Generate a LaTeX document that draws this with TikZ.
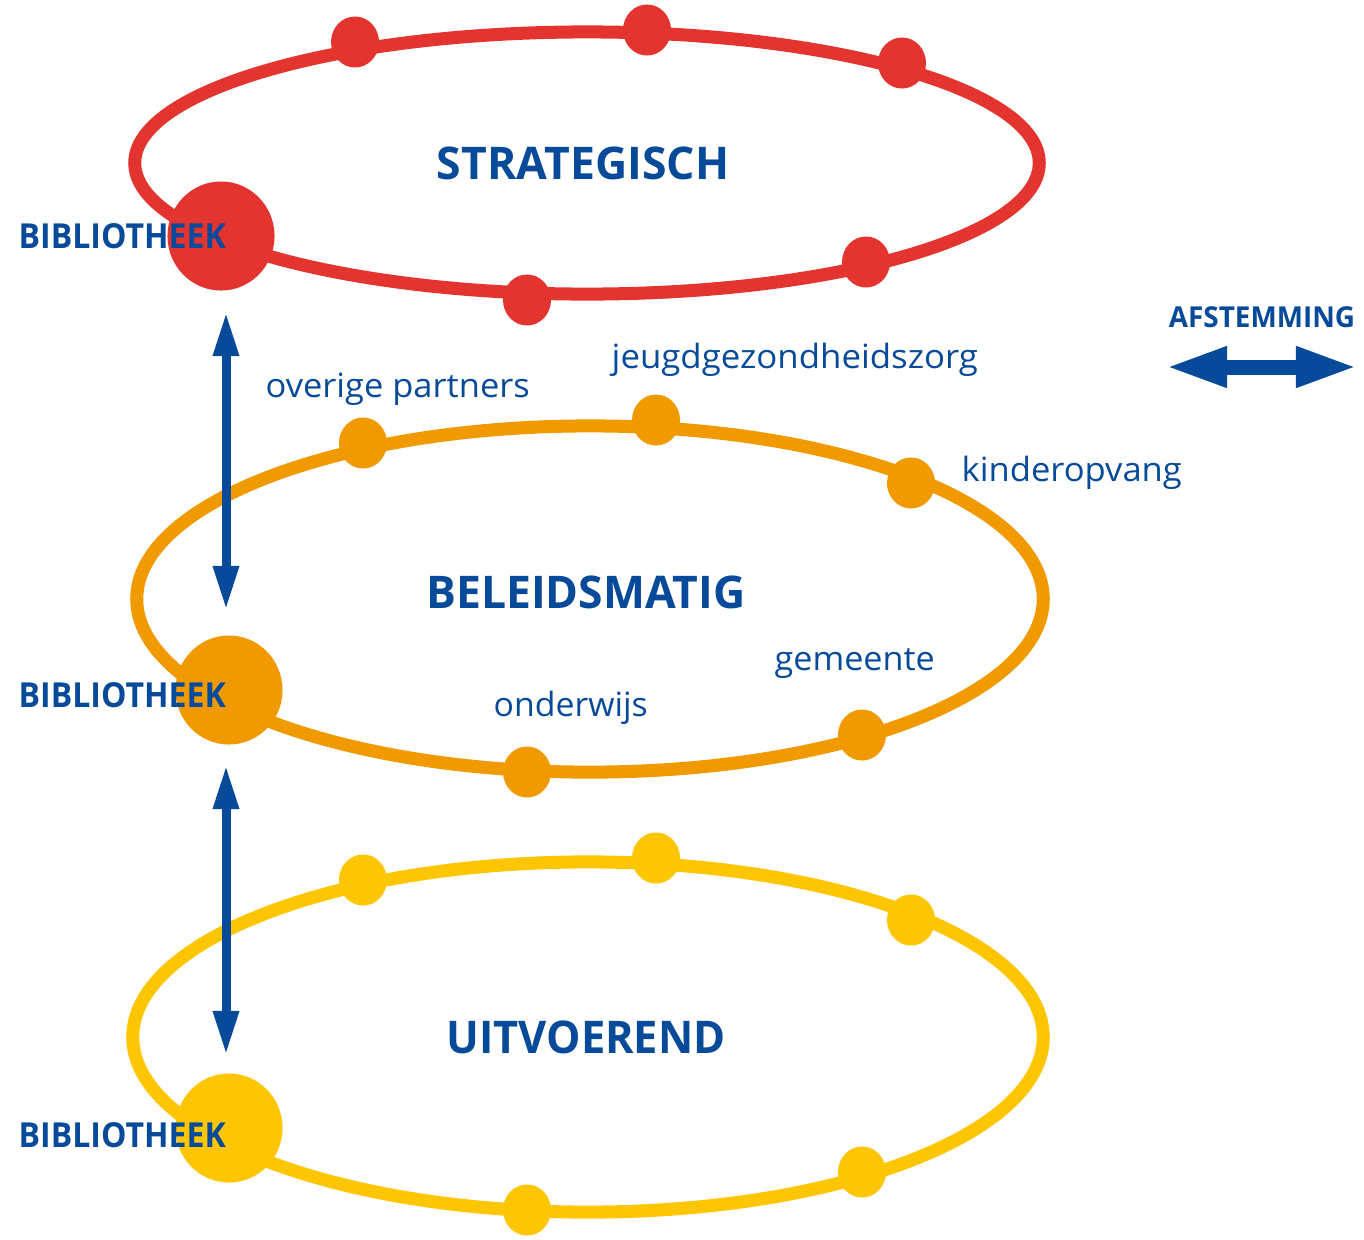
\documentclass[tikz,border=0pt]{standalone}
\usepackage{fontspec}
\usepackage{graphicx}
\setmainfont{Open Sans}
\usetikzlibrary{arrows.meta,shapes.geometric}
\definecolor{cred}{RGB}{227,52,47}
\definecolor{corange}{RGB}{240,154,0}
\definecolor{cyellow}{RGB}{253,198,0}
\definecolor{cblue}{RGB}{8,74,154}
\newcommand\fitto[2]{\resizebox{#1}{\height}{#2}}
\begin{document}
\begin{tikzpicture}[x=0.01cm,y=-0.01cm,
  ring/.style={line width=0.13cm},
  dot/.style={ellipse, inner sep=0pt, minimum width=0.48cm, minimum height=0.51cm},
  bigdot/.style={ellipse, inner sep=0pt, minimum width=1.07cm, minimum height=1.09cm},
  level/.style={text=cblue, inner sep=0pt, font=\bfseries\fontsize{12.8}{15}\selectfont},
  lib/.style={text=cblue, inner sep=0pt, anchor=west, font=\bfseries\fontsize{9.8}{11}\selectfont},
  partner/.style={text=cblue, inner sep=0pt, anchor=base west, font=\fontsize{9.5}{11}\selectfont},
  varrow/.style={cblue, line width=0.09cm, {Triangle[length=0.44cm,width=0.24cm]}-{Triangle[length=0.44cm,width=0.24cm]}},
  harrow/.style={cblue, line width=0.15cm, {Triangle[length=0.62cm,width=0.37cm]}-{Triangle[length=0.62cm,width=0.37cm]}},
]
\fill[white] (0,0) rectangle (1364,1239);
\useasboundingbox (0,0) rectangle (1364,1239);

% red ring
\draw[ring, cred] (587,163) ellipse [x radius=4.52cm, y radius=1.31cm];
\node[dot, fill=cred] (r1) at (355,42) {};
\node[dot, fill=cred] (r2) at (647,30) {};
\node[dot, fill=cred] (r3) at (902,63) {};
\node[dot, fill=cred] (r4) at (866,262) {};
\node[dot, fill=cred] (r5) at (527,300) {};
\node[bigdot, fill=cred] (rb) at (221,236) {};

% orange ring
\draw[ring, corange] (590,599) ellipse [x radius=4.53cm, y radius=1.73cm];
\node[dot, fill=corange] (o1) at (363,443) {};
\node[dot, fill=corange] (o2) at (656,420) {};
\node[dot, fill=corange] (o3) at (911,483) {};
\node[dot, fill=corange] (o4) at (862,735) {};
\node[dot, fill=corange] (o5) at (527,772) {};
\node[bigdot, fill=corange] (ob) at (229,690) {};

% yellow ring
\draw[ring, cyellow] (588,1037) ellipse [x radius=4.55cm, y radius=1.75cm];
\node[dot, fill=cyellow] (y1) at (363,880) {};
\node[dot, fill=cyellow] (y2) at (656,858) {};
\node[dot, fill=cyellow] (y3) at (911,920) {};
\node[dot, fill=cyellow] (y4) at (862,1172) {};
\node[dot, fill=cyellow] (y5) at (527,1210) {};
\node[bigdot, fill=cyellow] (yb) at (229,1128) {};

% level titles
\node[level] (strat) at (583,163) {\fitto{2.92cm}{STRATEGISCH}};
\node[level] (beleid) at (586,592) {\fitto{3.19cm}{BELEIDSMATIG}};
\node[level] (uitv) at (586,1037) {\fitto{2.79cm}{UITVOEREND}};

% library labels
\node[lib] (lib1) at (18,236) {\fitto{2.07cm}{BIBLIOTHEEK}};
\node[lib] (lib2) at (18,695) {\fitto{2.07cm}{BIBLIOTHEEK}};
\node[lib] (lib3) at (18,1135) {\fitto{2.07cm}{BIBLIOTHEEK}};

% partner labels
\node[partner] (p1) at (265,397) {\fitto{2.64cm}{overige partners}};
\node[partner] (p2) at (611,368) {\fitto{3.66cm}{jeugdgezondheidszorg}};
\node[partner] (p3) at (961,481) {\fitto{2.20cm}{kinderopvang}};
\node[partner] (p4) at (774,670) {\fitto{1.60cm}{gemeente}};
\node[partner] (p5) at (493,716) {\fitto{1.54cm}{onderwijs}};

% vertical arrows
\coordinate (a1t) at (226,312);
\coordinate (a1b) at (226,610);
\coordinate (a2t) at (226,765);
\coordinate (a2b) at (226,1055);
\draw[varrow] (a1t) -- (a1b);
\draw[varrow] (a2t) -- (a2b);

% afstemming
\node[text=cblue, inner sep=0pt, font=\bfseries\fontsize{8.2}{10}\selectfont] (afst) at (1262,317) {\fitto{1.86cm}{AFSTEMMING}};
\coordinate (hl) at (1165,367);
\coordinate (hr) at (1358,367);
\draw[harrow] (hl) -- (hr);
\end{tikzpicture}
\end{document}
